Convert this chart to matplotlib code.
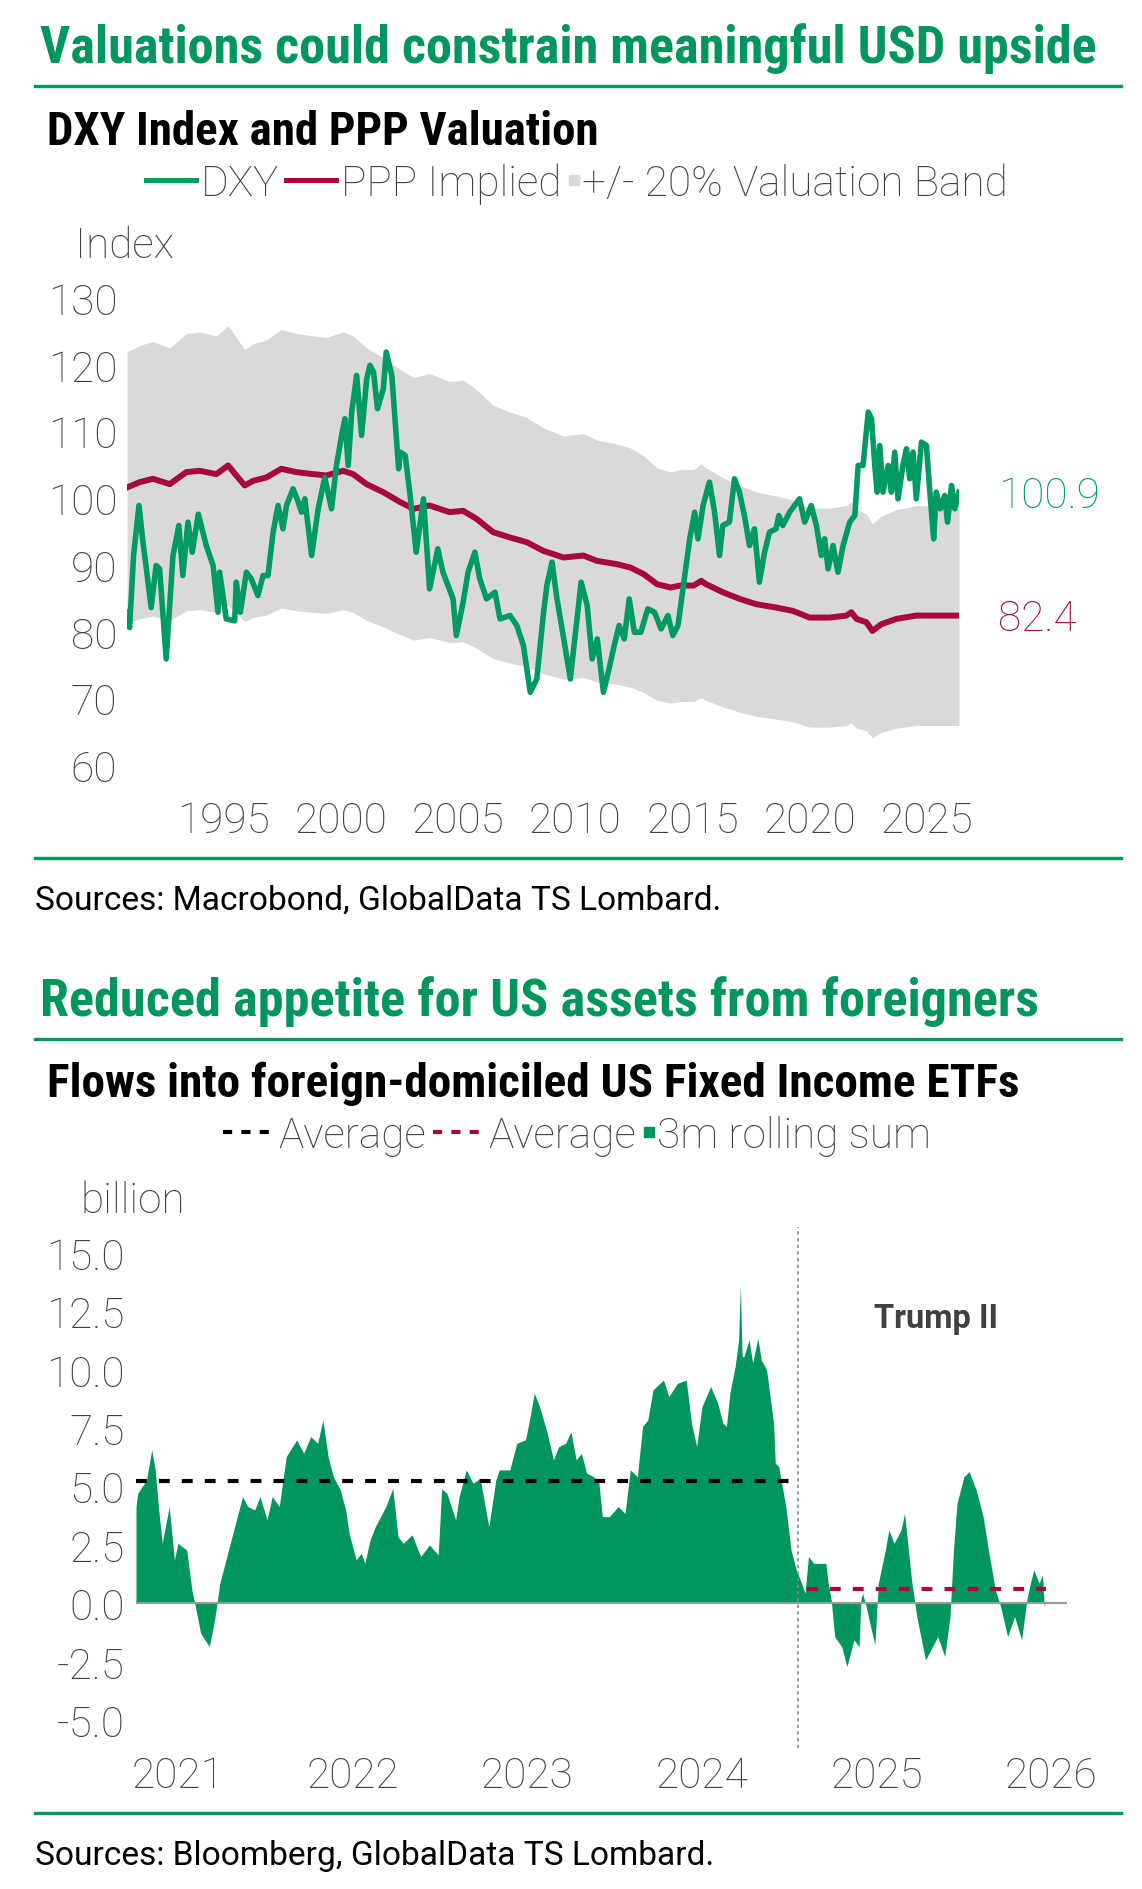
import matplotlib
matplotlib.use('Agg')
import matplotlib.pyplot as plt
import numpy as np
from matplotlib import font_manager as fm
from matplotlib.lines import Line2D

W, H = 1142, 1890

# ---------------- DXY chart data
dxy_year = [
    1990.88, 1990.99, 1991.16, 1991.39, 1991.56, 1991.67, 1991.91, 1992.12, 1992.27, 1992.55,
    1992.84, 1993.09, 1993.26, 1993.48, 1993.66, 1993.92, 1994.26, 1994.55, 1994.76, 1994.83,
    1995.11, 1995.47, 1995.54, 1995.71, 1995.97, 1996.18, 1996.46, 1996.68, 1996.89, 1997.11,
    1997.32, 1997.53, 1997.68, 1997.96, 1998.13, 1998.32, 1998.46, 1998.75, 1999.03, 1999.31,
    1999.60, 1999.81, 2000.03, 2000.17, 2000.31, 2000.46, 2000.67, 2000.88, 2001.10, 2001.24,
    2001.39, 2001.56, 2001.81, 2001.93, 2002.17, 2002.39, 2002.46, 2002.53, 2002.74, 2002.95,
    2003.21, 2003.52, 2003.78, 2004.13, 2004.35, 2004.78, 2004.92, 2005.21, 2005.42, 2005.71,
    2005.92, 2006.21, 2006.57, 2006.78, 2007.21, 2007.50, 2007.78, 2008.07, 2008.35, 2008.64,
    2008.78, 2009.00, 2009.21, 2009.50, 2009.78, 2010.00, 2010.24, 2010.50, 2010.71, 2010.93,
    2011.19, 2011.43, 2011.65, 2011.86, 2012.08, 2012.29, 2012.51, 2012.79, 2013.08, 2013.37,
    2013.65, 2013.94, 2014.15, 2014.37, 2014.58, 2014.87, 2015.08, 2015.22, 2015.44, 2015.71,
    2015.93, 2016.14, 2016.28, 2016.56, 2016.78, 2016.99, 2017.20, 2017.42, 2017.63, 2017.84,
    2018.06, 2018.27, 2018.55, 2018.67, 2018.84, 2019.13, 2019.55, 2019.77, 2020.05, 2020.27,
    2020.48, 2020.62, 2020.77, 2020.98, 2021.19, 2021.41, 2021.69, 2021.91, 2022.05, 2022.26,
    2022.48, 2022.62, 2022.76, 2022.86, 2022.97, 2023.11, 2023.33, 2023.47, 2023.61, 2023.75,
    2023.96, 2024.11, 2024.25, 2024.39, 2024.53, 2024.75, 2024.96, 2025.13, 2025.27, 2025.38,
    2025.55, 2025.74, 2025.86, 2026.03, 2026.17, 2026.35]
dxy = [
    82.9, 80.6, 91.4, 98.9, 93.4, 90.4, 83.6, 89.9, 89.4, 75.9,
    91.4, 95.9, 88.4, 96.4, 91.9, 97.6, 92.9, 89.9, 82.9, 88.9,
    81.9, 81.6, 87.4, 82.9, 88.9, 87.9, 85.4, 88.4, 88.4, 94.9,
    98.9, 95.4, 98.9, 101.4, 99.9, 97.9, 99.9, 91.4, 98.4, 103.1,
    98.4, 104.9, 109.4, 111.9, 104.9, 112.9, 118.4, 109.4, 117.9, 119.9,
    118.9, 113.4, 116.4, 121.9, 118.4, 107.9, 104.4, 106.9, 106.4, 100.4,
    91.9, 99.9, 86.4, 92.4, 88.9, 84.9, 79.4, 84.4, 88.9, 91.9,
    87.9, 84.9, 85.9, 81.9, 82.4, 80.9, 77.9, 70.9, 72.9, 82.9,
    86.9, 90.4, 84.9, 78.9, 72.9, 79.9, 87.4, 83.9, 75.9, 78.9,
    70.9, 74.4, 77.9, 80.9, 78.9, 84.9, 79.9, 79.9, 83.4, 82.9,
    80.4, 82.4, 79.4, 80.9, 86.4, 93.9, 97.9, 93.9, 98.9, 102.4,
    97.9, 91.4, 95.9, 96.4, 102.9, 100.9, 97.4, 92.9, 95.4, 87.4,
    91.9, 94.9, 95.4, 97.4, 95.9, 97.9, 99.9, 96.4, 98.9, 95.9,
    91.4, 93.9, 89.4, 92.9, 88.9, 92.9, 96.4, 97.4, 104.9, 104.9,
    112.9, 111.9, 104.9, 100.9, 107.9, 100.9, 104.9, 100.9, 106.9, 99.9,
    104.9, 107.4, 102.9, 106.9, 99.9, 108.4, 107.9, 99.9, 93.9, 100.9,
    98.4, 100.4, 96.4, 101.9, 98.4, 100.9]

ppp_year = [
    1990.88, 1991.42, 1991.99, 1992.70, 1993.41, 1993.98, 1994.69, 1995.19, 1995.54, 1995.90,
    1996.26, 1996.82, 1997.46, 1998.10, 1998.81, 1999.38, 2000.09, 2000.52, 2001.09, 2001.80,
    2002.53, 2003.10, 2003.78, 2004.63, 2005.21, 2005.78, 2006.49, 2007.21, 2007.92, 2008.63,
    2009.49, 2010.34, 2010.91, 2011.77, 2012.34, 2012.91, 2013.48, 2014.05, 2014.47, 2015.04,
    2015.36, 2015.57, 2016.28, 2017.00, 2017.71, 2018.56, 2019.27, 2019.98, 2020.84, 2021.55,
    2021.76, 2021.98, 2022.40, 2022.66, 2023.04, 2023.68, 2024.53, 2025.10, 2025.67, 2026.35]
ppp = [
    101.6, 102.4, 102.9, 102.1, 103.9, 104.1, 103.6, 104.9, 103.4, 101.9,
    102.6, 103.1, 104.4, 103.9, 103.6, 103.4, 104.1, 103.6, 102.1, 100.9,
    99.4, 98.4, 98.9, 97.9, 98.1, 96.9, 94.9, 94.1, 93.4, 92.1,
    91.1, 91.4, 90.6, 90.1, 89.6, 88.6, 87.1, 86.6, 86.9, 86.9,
    87.6, 87.1, 85.9, 84.9, 84.1, 83.6, 83.1, 82.1, 82.1, 82.4,
    82.9, 81.9, 81.4, 80.1, 81.1, 81.9, 82.4, 82.4, 82.4, 82.4]
band_pct = 0.20
dxy_ticks = [1995, 2000, 2005, 2010, 2015, 2020, 2025]
index_ticks = [60, 70, 80, 90, 100, 110, 120, 130]

# ---------------- ETF flows chart data (3m rolling sum, USD bn)
flow_year = [
    2021.26, 2021.27, 2021.32, 2021.35, 2021.37, 2021.39, 2021.41, 2021.45, 2021.48, 2021.50,
    2021.55, 2021.58, 2021.60, 2021.63, 2021.68, 2021.71, 2021.74, 2021.78, 2021.83, 2021.87,
    2021.90, 2021.94, 2021.97, 2022.01, 2022.04, 2022.08, 2022.12, 2022.18, 2022.22, 2022.26,
    2022.30, 2022.33, 2022.36, 2022.39, 2022.43, 2022.46, 2022.48, 2022.52, 2022.55, 2022.57,
    2022.60, 2022.63, 2022.69, 2022.73, 2022.76, 2022.79, 2022.84, 2022.89, 2022.94, 2022.99,
    2023.01, 2023.04, 2023.09, 2023.11, 2023.15, 2023.19, 2023.23, 2023.28, 2023.32, 2023.34,
    2023.40, 2023.44, 2023.49, 2023.52, 2023.54, 2023.57, 2023.61, 2023.65, 2023.68, 2023.72,
    2023.75, 2023.78, 2023.81, 2023.84, 2023.88, 2023.91, 2023.93, 2023.97, 2024.02, 2024.06,
    2024.09, 2024.13, 2024.16, 2024.19, 2024.22, 2024.28, 2024.31, 2024.36, 2024.41, 2024.44,
    2024.47, 2024.50, 2024.55, 2024.59, 2024.62, 2024.64, 2024.66, 2024.69, 2024.71, 2024.72,
    2024.73, 2024.74, 2024.77, 2024.79, 2024.82, 2024.84, 2024.87, 2024.91, 2024.92, 2024.94,
    2024.98, 2025.01, 2025.04, 2025.07, 2025.09, 2025.11, 2025.14, 2025.18, 2025.21, 2025.22,
    2025.24, 2025.26, 2025.30, 2025.33, 2025.37, 2025.40, 2025.41, 2025.42, 2025.44, 2025.47,
    2025.49, 2025.51, 2025.55, 2025.57, 2025.60, 2025.64, 2025.66, 2025.68, 2025.70, 2025.73,
    2025.78, 2025.81, 2025.85, 2025.89, 2025.92, 2025.94, 2025.96, 2026.00, 2026.03, 2026.07,
    2026.11, 2026.14, 2026.18, 2026.21, 2026.25, 2026.29, 2026.33, 2026.36, 2026.38, 2026.40,
    2026.43, 2026.45, 2026.46, 2026.47]
flow = [
    4.14, 4.71, 5.28, 6.57, 5.71, 4.0, 2.57, 4.14, 1.86, 2.57,
    2.28, 0.57, -0.14, -1.28, -1.86, -0.71, 0.86, 2.0, 3.43, 4.57,
    4.14, 4.0, 4.57, 3.57, 4.57, 4.14, 6.28, 7.0, 6.42, 7.14,
    6.85, 7.85, 6.28, 5.42, 4.85, 4.0, 3.0, 1.86, 2.14, 1.71,
    2.71, 3.28, 4.14, 4.92, 2.85, 2.57, 2.93, 2.0, 2.5, 2.07,
    4.9, 4.71, 3.57, 4.57, 5.71, 5.14, 5.35, 3.28, 5.28, 5.71,
    5.71, 6.85, 7.0, 8.14, 9.0, 8.42, 7.42, 6.14, 6.71, 6.85,
    7.35, 6.14, 6.42, 5.57, 5.42, 5.14, 3.71, 3.71, 4.14, 3.85,
    5.71, 5.42, 7.57, 7.85, 9.14, 9.56, 8.85, 9.42, 9.56, 7.71,
    6.71, 8.42, 9.28, 8.57, 7.71, 7.57, 9.0, 10.14, 11.28, 13.63,
    10.56, 10.56, 11.28, 10.28, 11.35, 10.42, 10.0, 7.71, 6.0, 5.85,
    4.14, 2.28, 1.43, 0.86, 0.43, 2.0, 1.71, 1.71, 1.71, 1.0,
    0.14, -1.43, -1.86, -2.71, -1.57, -1.86, 0.14, 0.43, -0.14, -1.14,
    -1.78, 0.86, 2.28, 3.14, 2.57, 3.14, 3.85, 2.43, 1.0, -0.57,
    -2.43, -2.0, -1.43, -2.28, -0.57, 2.28, 4.28, 5.42, 5.64, 4.85,
    3.71, 2.28, 0.57, -0.14, -1.43, -0.57, -1.57, 0.14, 0.86, 1.43,
    0.86, 1.21, -0.14, 0.14]
avg_before = 5.25      # average up to Trump II
avg_after = 0.6        # average since Trump II
trump_start = 2025.05
flow_years = [2021, 2022, 2023, 2024, 2025, 2026]
flow_ticks = [-5.0, -2.5, 0.0, 2.5, 5.0, 7.5, 10.0, 12.5, 15.0]

GREEN = '#00965E'
LINE_GREEN = '#009A62'
RED = '#A6093D'
BAND = '#D9D9D9'
TXT = '#404040'
FS = 30.5

names = {f.name for f in fm.fontManager.ttflist}


def pick(*cands):
    for c in cands:
        if c in names:
            return c
    return 'DejaVu Sans'


COND = pick('Roboto Condensed', 'Liberation Sans Narrow', 'Roboto')
BASE = pick('Roboto', 'Lato', 'DejaVu Sans')
plt.rcParams['font.family'] = BASE
plt.rcParams['font.weight'] = 'light'
plt.rcParams['axes.unicode_minus'] = False

fig = plt.figure(figsize=(W / 100, H / 100), dpi=100)
r = fig.canvas.get_renderer()


def fx(px):
    return px / W


def fy(py):
    return 1 - py / H


def fit_text(x, y, s, width, **kw):
    # left/baseline text, font size scaled so the text spans `width` pixels
    t = fig.text(fx(x), fy(y), s, ha='left', va='baseline', **kw)
    w = t.get_window_extent(r).width
    t.set_fontsize(t.get_fontsize() * width / w)
    return t


def rule(y):
    fig.add_artist(Line2D([fx(35), fx(1121)], [fy(y)] * 2, color=GREEN, lw=2.4))


def legend_row(items, xc, base, fs):
    mid = base - 0.36 * fs * 100 / 72
    texts = [fig.text(0, fy(base), it[3], fontsize=fs, color=TXT, va='baseline')
             for it in items]
    widths = [t.get_window_extent(r).width for t in texts]
    hw = [14 if it[0] == 'square' else 55 for it in items]
    total = sum(hw) + sum(widths) + 7 * (len(items) - 1)
    x = xc - total / 2
    for (kind, color, style, lab), t, w, h in zip(items, texts, widths, hw):
        if kind == 'square':
            fig.add_artist(Line2D([fx(x + 6)], [fy(mid)], marker='s', ms=7,
                                  ls='none', color=color))
        else:
            fig.add_artist(Line2D([fx(x), fx(x + 50)], [fy(mid)] * 2, color=color,
                                  ls=style[0], lw=style[1]))
        t.set_x(fx(x + h))
        x += h + w + 7


# ---------------- chart 1: DXY vs PPP
fit_text(40, 63, 'Valuations could constrain meaningful USD upside', 1058,
         fontsize=32, fontweight='bold', color=GREEN, family=COND)
rule(87)
fit_text(47, 145, 'DXY Index and PPP Valuation', 552,
         fontsize=28, fontweight='bold', color='black', family=COND)
legend_row([('line', LINE_GREEN, ('-', 3.6), 'DXY'),
            ('line', RED, ('-', 3.6), 'PPP Implied'),
            ('square', BAND, None, '+/- 20% Valuation Band')], 577, 196, FS)
fig.text(fx(75), fy(258), 'Index', fontsize=FS, color=TXT, va='baseline')

ax1 = fig.add_axes([fx(127), fy(766), (959 - 127) / W, (766 - 299) / H])
ppp_arr = np.array(ppp)
ax1.fill_between(ppp_year, ppp_arr * (1 - band_pct), ppp_arr * (1 + band_pct),
                 color=BAND, lw=0, zorder=1)
ax1.plot(ppp_year, ppp, color=RED, lw=4.3, zorder=2, solid_joinstyle='round')
ax1.plot(dxy_year, dxy, color=LINE_GREEN, lw=4.0, zorder=3, solid_joinstyle='round')
ax1.set_xlim(dxy_year[0], dxy_year[-1])
ax1.set_ylim(60, 130)
ax1.set_xticks(dxy_ticks, labels=[str(y) for y in dxy_ticks])
ax1.set_yticks(index_ticks, labels=[str(v) for v in index_ticks])
ax1.annotate(f'{dxy[-1]:.1f}', xy=(dxy_year[-1], dxy[-1]), xytext=(28, -10.5),
             textcoords='offset points', color=LINE_GREEN, fontsize=FS,
             va='baseline', ha='left', annotation_clip=False)
ax1.annotate(f'{ppp[-1]:.1f}', xy=(ppp_year[-1], ppp[-1]), xytext=(28, -10.5),
             textcoords='offset points', color=RED, fontsize=FS,
             va='baseline', ha='left', annotation_clip=False)
ax1.tick_params(axis='x', length=0, labelsize=FS, labelcolor=TXT, pad=25)
ax1.tick_params(axis='y', length=0, labelsize=FS, labelcolor=TXT, pad=7)
for s in ax1.spines.values():
    s.set_visible(False)

rule(859)
fit_text(35, 910, 'Sources: Macrobond, GlobalData TS Lombard.', 686,
         fontsize=24, fontweight='normal', color='black')

# ---------------- chart 2: ETF flows
fit_text(40, 1016, 'Reduced appetite for US assets from foreigners', 1000,
         fontsize=32, fontweight='bold', color=GREEN, family=COND)
rule(1040)
fit_text(47, 1097, 'Flows into foreign-domiciled US Fixed Income ETFs', 974,
         fontsize=28, fontweight='bold', color='black', family=COND)
legend_row([('line', 'black', ((0, (2.2, 2.2)), 3), 'Average'),
            ('line', RED, ((0, (2.2, 2.2)), 3), 'Average'),
            ('square', GREEN, None, '3m rolling sum')], 577, 1148, FS)
fig.text(fx(80), fy(1213), 'billion', fontsize=FS, color=TXT, va='baseline')

ax2 = fig.add_axes([fx(136), fy(1721), (1067 - 136) / W, (1721 - 1254) / H])
ax2.fill_between(flow_year, 0, flow, color=GREEN, lw=0, zorder=2)
ax2.axhline(0, color='#9a9a9a', lw=1.5, zorder=3)
ax2.plot([flow_year[0], trump_start], [avg_before] * 2, color='black', lw=3,
         ls=(0, (2.6, 2.9)), zorder=4)
ax2.plot([trump_start + 0.05, flow_year[-1]], [avg_after] * 2, color=RED, lw=3,
         ls=(0, (2.6, 2.9)), zorder=4)
ax2.plot([trump_start, trump_start], [-6.2, 16.1], color='#8a8a8a', lw=1.2,
         ls=(0, (2, 2)), clip_on=False, zorder=5)
ax2.text(2025.84, 12.2, 'Trump II', ha='center', va='center', fontsize=23.5,
         fontweight='bold', color=TXT)
ax2.set_xlim(flow_year[0], flow_year[-1] + 0.12)
ax2.set_ylim(-5, 15)
ax2.set_xticks([y + 0.5 for y in flow_years], labels=[str(y) for y in flow_years])
ax2.set_yticks(flow_ticks, labels=[f'{v:.1f}' for v in flow_ticks])
ax2.tick_params(axis='x', length=0, labelsize=FS, labelcolor=TXT, pad=25)
ax2.tick_params(axis='y', length=0, labelsize=FS, labelcolor=TXT, pad=8)
for s in ax2.spines.values():
    s.set_visible(False)

rule(1814)
fit_text(35, 1865, 'Sources: Bloomberg, GlobalData TS Lombard.', 679,
         fontsize=24, fontweight='normal', color='black')

fig.savefig('out.png', dpi=100, facecolor='white')
